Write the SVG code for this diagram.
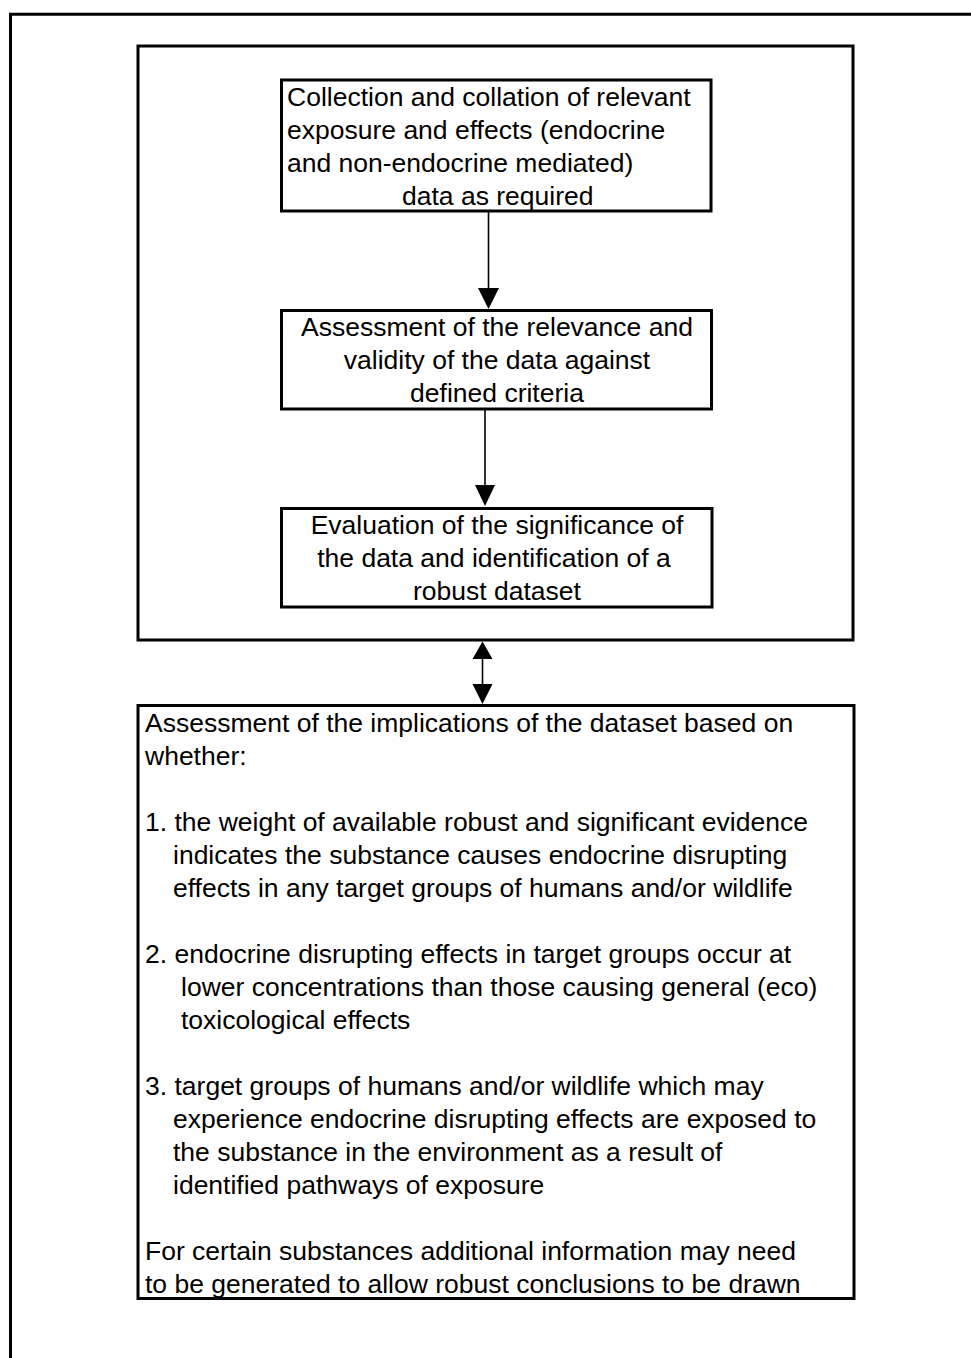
<svg xmlns="http://www.w3.org/2000/svg" width="971" height="1358" viewBox="0 0 971 1358">
  <style>
    .frame { fill: none; stroke: #000; stroke-width: 3; }
    .box { fill: #fff; stroke: #000; stroke-width: 3; }
    .t { font-family: "Liberation Sans", Arial, sans-serif; font-size: 26.5px; fill: #000; }
    .c { text-anchor: middle; }
    .line { stroke: #000; stroke-width: 1.6; fill: none; }
    .head { fill: #000; stroke: none; }
  </style>

  <!-- outer page frame (left and top edges) -->
  <path class="frame" d="M10.5,1358 V14.3 H971"/>

  <!-- enclosing frame for the first three steps -->
  <rect id="stage-frame" class="frame" x="138" y="46" width="715" height="594"/>

  <g id="collection">
    <rect class="box" x="281.5" y="80" width="429.5" height="131"/>
    <text class="t" x="287" y="106">Collection and collation of relevant</text>
    <text class="t" x="287" y="139">exposure and effects (endocrine</text>
    <text class="t" x="287" y="172">and non-endocrine mediated)</text>
    <text class="t" x="402" y="205">data as required</text>
  </g>

  <g id="assessment">
    <rect class="box" x="281.5" y="310.5" width="430" height="98.5"/>
    <text class="t c" x="497" y="336">Assessment of the relevance and</text>
    <text class="t c" x="497" y="369">validity of the data against</text>
    <text class="t c" x="497" y="402">defined criteria</text>
  </g>

  <g id="evaluation">
    <rect class="box" x="281.5" y="508.5" width="430.5" height="98.5"/>
    <text class="t c" x="497" y="534">Evaluation of the significance of</text>
    <text class="t c" x="494" y="567">the data and identification of a</text>
    <text class="t c" x="497" y="600">robust dataset</text>
  </g>

  <g id="implications">
    <rect class="box" x="138" y="705.5" width="716" height="593"/>
    <text class="t" x="145" y="732">Assessment of the implications of the dataset based on</text>
    <text class="t" x="145" y="765">whether:</text>
    <text class="t" x="145" y="831">1. the weight of available robust and significant evidence</text>
    <text class="t" x="173" y="864">indicates the substance causes endocrine disrupting</text>
    <text class="t" x="173" y="897">effects in any target groups of humans and/or wildlife</text>
    <text class="t" x="145" y="963">2. endocrine disrupting effects in target groups occur at</text>
    <text class="t" x="181" y="996">lower concentrations than those causing general (eco)</text>
    <text class="t" x="181" y="1029">toxicological effects</text>
    <text class="t" x="145" y="1095">3. target groups of humans and/or wildlife which may</text>
    <text class="t" x="173" y="1128">experience endocrine disrupting effects are exposed to</text>
    <text class="t" x="173" y="1161">the substance in the environment as a result of</text>
    <text class="t" x="173" y="1194">identified pathways of exposure</text>
    <text class="t" x="145" y="1260">For certain substances additional information may need</text>
    <text class="t" x="145" y="1293">to be generated to allow robust conclusions to be drawn</text>
  </g>

  <g id="connectors">
    <line class="line" x1="488.5" y1="211" x2="488.5" y2="290"/>
    <polygon class="head" points="478,288 499,288 488.5,309"/>

    <line class="line" x1="485" y1="409" x2="485" y2="487"/>
    <polygon class="head" points="475,485 495,485 485,506"/>

    <line class="line" x1="482.5" y1="657" x2="482.5" y2="686"/>
    <polygon class="head" points="472.5,659 492.5,659 482.5,641.5"/>
    <polygon class="head" points="472.5,684 492.5,684 482.5,704"/>
  </g>
</svg>
